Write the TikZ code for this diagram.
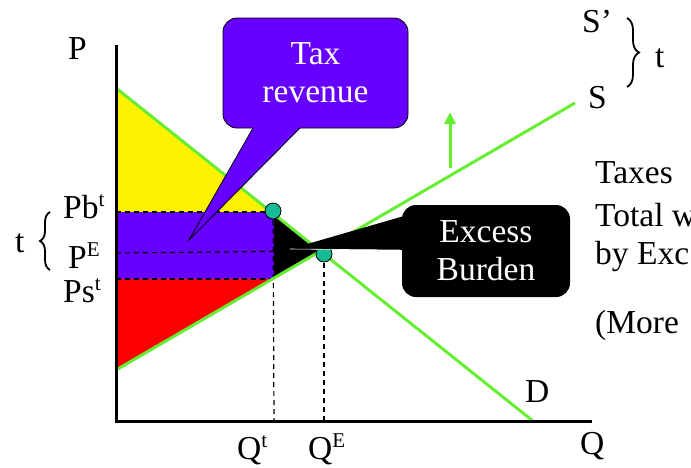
\documentclass[tikz,border=0pt]{standalone}
\usepackage{fontspec}
\setmainfont{Liberation Serif}
\usepackage{xcolor}
\usetikzlibrary{arrows.meta, decorations.pathreplacing}

\definecolor{linegreen}{RGB}{102,238,51}
\definecolor{dotteal}{RGB}{22,186,148}
\definecolor{taxpurple}{RGB}{102,0,255}

\newcommand{\sups}[1]{\raisebox{0.33em}{\fontsize{21}{21}\selectfont #1}}

\tikzset{
  lbl/.style={font=\fontsize{33.5}{38}\selectfont, inner sep=0pt, anchor=base west},
  schedule/.style={linegreen, line width=3pt},
  guide/.style={line width=1.2pt, dash pattern=on 5pt off 4pt},
  eqdot/.style={circle, fill=dotteal, draw=black, line width=0.8pt, minimum size=16pt, inner sep=0pt},
  bubble/.style={rounded corners=14pt, align=center, text=white, font=\fontsize{33.5}{38}\selectfont},
  bracemark/.style={decorate, line width=1.8pt},
}

\begin{document}
\begin{tikzpicture}[x=1pt, y=-1pt]
\useasboundingbox (0,0) rectangle (691,467);
% points of the graph
\coordinate (origin) at (116,421);
\coordinate (ytop) at (116,45);
\coordinate (xend) at (592,421);
\coordinate (dtop) at (116,88);
\coordinate (dbot) at (533,421);
\coordinate (sbot) at (116,370);
\coordinate (stop) at (575,103);
\coordinate (eq) at (320,251);
\coordinate (pb) at (116,212);
\coordinate (pe) at (116,253);
\coordinate (ps) at (116,279);
\coordinate (bt) at (271,212);
\coordinate (btq) at (274,214);
\coordinate (stq) at (274,278);
\coordinate (rectcorner) at (274,279);
\coordinate (qt) at (274,421);
\coordinate (qe) at (324,421);

% surplus areas
\fill[yellow] (dtop) -- (pb) -- (bt) -- cycle;
\fill[taxpurple] (pb) rectangle (rectcorner);
\fill[red] (ps) -- (rectcorner) -- (sbot) -- cycle;
\fill[black] (btq) -- (stq) -- (eq) -- cycle;

% guide lines
\draw[guide] (pb) -- (274,212);
\draw[guide] (pe) -- (eq);
\draw[guide] (ps) -- (rectcorner);
\draw[guide] (273,211) -- (qt);
\draw[guide] (324,254) -- (qe);

% demand and supply
\draw[schedule] (dtop) -- (dbot);
\draw[schedule] (sbot) -- (stop);
\draw[schedule, -{Triangle[length=12pt, width=11pt]}] (450,168) -- (450,112);

% axes
\draw[line width=3pt, line join=miter] (ytop) -- (origin) -- (xend);

\node[eqdot] (taxdot) at (273,211) {};
\node[eqdot] (eqdot) at (324,254) {};

% braces for t
\draw[bracemark, decoration={brace, amplitude=10pt}] (50,270) -- (50,212);
\draw[bracemark, decoration={brace, amplitude=12pt}] (627,18) -- (627,87);

% labels
\node[lbl] (plabel) at (68,59) {P};
\node[lbl] (pblabel) at (63,218) {Pb\sups{t}};
\node[lbl] (pelabel) at (68,268) {P\sups{E}};
\node[lbl] (pslabel) at (63,302) {Ps\sups{t}};
\node[lbl] (tleft) at (15,252) {t};
\node[lbl] (qtlabel) at (237,459) {Q\sups{t}};
\node[lbl] (qelabel) at (308,459) {Q\sups{E}};
\node[lbl] (qlabel) at (580,454) {Q};
\node[lbl] (dlabel) at (525,402) {D};
\node[lbl] (sprime) at (582,32) {S’};
\node[lbl] (slabel) at (588,108) {S};
\node[lbl] (tright) at (655,67) {t};

% text on the right
\node[lbl] (note1) at (595,183) {Taxes};
\node[lbl] (note2) at (595,226) {Total w};
\node[lbl] (note3) at (595,264) {by Exc};
\node[lbl] (note4) at (595,333) {(More};

% tax revenue callout
\node[bubble, fill=taxpurple, draw=black, line width=0.8pt, minimum width=185pt, minimum height=110pt] (taxbox) at (315.5,73) {Tax\\revenue};
\coordinate (taxtip) at (189,240);
\fill[taxpurple] (254.7,125) -- (taxtip) -- (303,125) -- cycle;
\draw[line width=0.8pt] (253,128) -- (taxtip) -- (300,128);

% excess burden callout
\node[bubble, fill=black, minimum width=168pt, minimum height=92pt] (ebbox) at (486,251) {Excess\\Burden};
\coordinate (ebtip) at (290,249);
\fill[black] (404,216) -- (ebtip) -- (404,250) -- cycle;
\draw[white, line width=0.6pt] (ebtip) -- (400,250);
\end{tikzpicture}
\end{document}
